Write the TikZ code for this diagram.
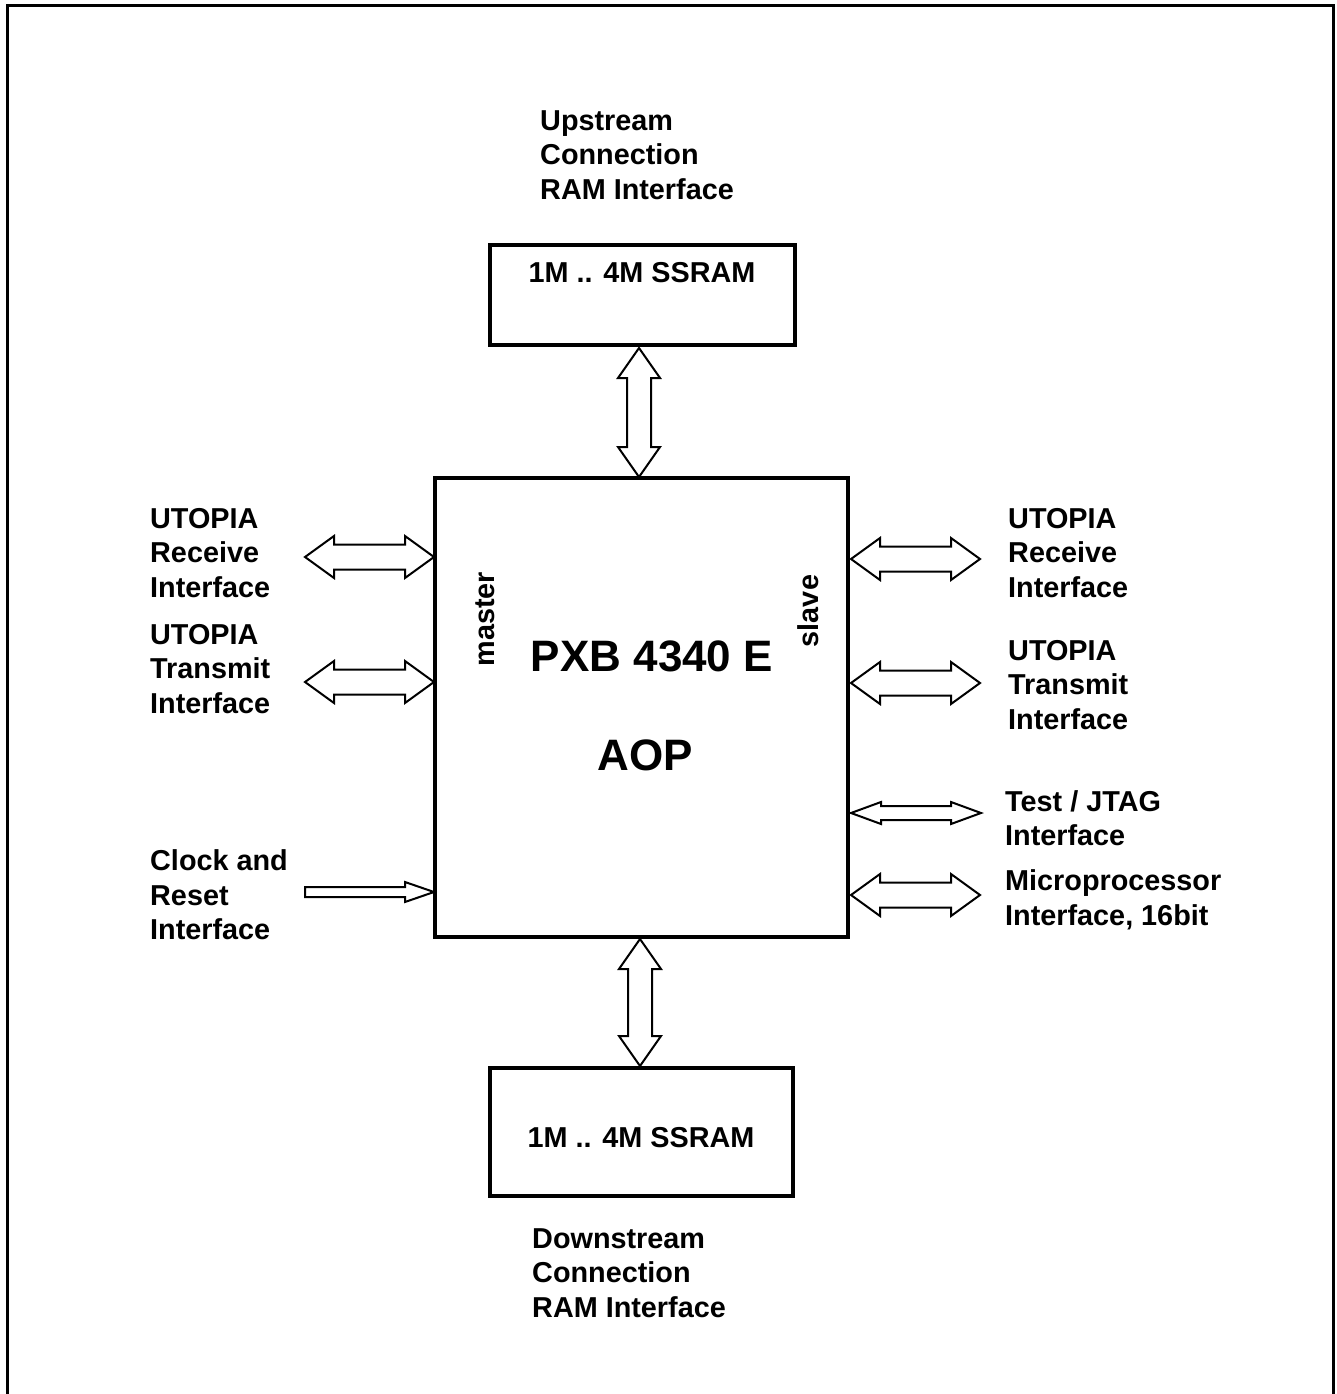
\documentclass[tikz,border=0pt]{standalone}
\usepackage{fontspec}
\setmainfont{Liberation Sans}
\newcommand\harr[6]{% xa, xb, y, shaft half, head half, head len
  \draw[arr] (#1,#3) -- ({#1+#6},{#3-#5}) -- ({#1+#6},{#3-#4}) -- ({#2-#6},{#3-#4}) -- ({#2-#6},{#3-#5}) -- (#2,#3)
    -- ({#2-#6},{#3+#5}) -- ({#2-#6},{#3+#4}) -- ({#1+#6},{#3+#4}) -- ({#1+#6},{#3+#5}) -- cycle;}
\newcommand\varr[6]{% ya, yb, x, shaft half, head half, head len
  \draw[arr] (#3,#1) -- ({#3-#5},{#1+#6}) -- ({#3-#4},{#1+#6}) -- ({#3-#4},{#2-#6}) -- ({#3-#5},{#2-#6}) -- (#3,#2)
    -- ({#3+#5},{#2-#6}) -- ({#3+#4},{#2-#6}) -- ({#3+#4},{#1+#6}) -- ({#3+#5},{#1+#6}) -- cycle;}
\begin{document}
\begin{tikzpicture}[x=1pt,y=-1pt,
  arr/.style={draw=black,line width=2pt,fill=white,line join=miter},
  blk/.style={draw=black,line width=4.5pt,fill=white},
  lbl/.style={font=\bfseries\fontsize{28.8}{34.5}\selectfont,align=left,inner sep=0pt,anchor=west},
  txt/.style={font=\bfseries\fontsize{28.8}{34.5}\selectfont,inner sep=0pt},
  big/.style={font=\bfseries\fontsize{44}{50}\selectfont,inner sep=0pt}]
\useasboundingbox (0,0) rectangle (1336,1394);
\fill[white] (0,0) rectangle (1336,1394);
\begin{scope}
\clip (0,0) rectangle (1336,1394);
\draw[line width=3pt] (7,1420) -- (7,6) -- (1333,6) -- (1333,1420);
\end{scope}
% boxes
\node[blk,minimum width=305pt,minimum height=100pt] (up) at (642.5,295) {};
\node[blk,minimum width=303pt,minimum height=128pt] (down) at (641.5,1132) {};
\node[blk,minimum width=413pt,minimum height=459pt] (chip) at (641.5,707.5) {};
% texts
\node[lbl] (tup) at (540,155) {Upstream\\Connection\\RAM Interface};
\node[txt] (sup) at (642,273) {1M .. 4M SSRAM};
\node[txt] (sdn) at (641,1138) {1M .. 4M SSRAM};
\node[lbl] (tdn) at (532,1273) {Downstream\\Connection\\RAM Interface};
\node[lbl] (l1) at (150,553) {UTOPIA\\Receive\\Interface};
\node[lbl] (l2) at (150,669) {UTOPIA\\Transmit\\Interface};
\node[lbl] (l3) at (150,895) {Clock and\\Reset\\Interface};
\node[lbl] (r1) at (1008,553) {UTOPIA\\Receive\\Interface};
\node[lbl] (r2) at (1008,685) {UTOPIA\\Transmit\\Interface};
\node[lbl] (r3) at (1005,818) {Test / JTAG\\Interface};
\node[lbl] (r4) at (1005,900) {Microprocessor\\Interface, 16bit};
\node[big] (name) at (652,656) {PXB 4340 E};
\node[big] (aop) at (645,755) {AOP};
\node[txt,rotate=90] (m) at (485,619) {master};
\node[txt,rotate=90] (s) at (808,611) {slave};
% arrows
\varr{348}{477}{639}{12}{21}{30}
\varr{939}{1066}{640}{12}{21}{30}
\harr{305}{434}{557}{12.5}{21}{29}
\harr{305}{434}{682}{12.5}{21}{29}
\harr{851}{980}{559}{12.5}{21}{29}
\harr{851}{980}{683}{12.5}{21}{29}
\harr{851}{981}{813}{7}{11}{30}
\harr{851}{980}{895}{12.5}{21}{29}
\draw[arr] (305,887) -- (405,887) -- (405,882) -- (434,892) -- (405,902) -- (405,897) -- (305,897) -- cycle;
\end{tikzpicture}
\end{document}
